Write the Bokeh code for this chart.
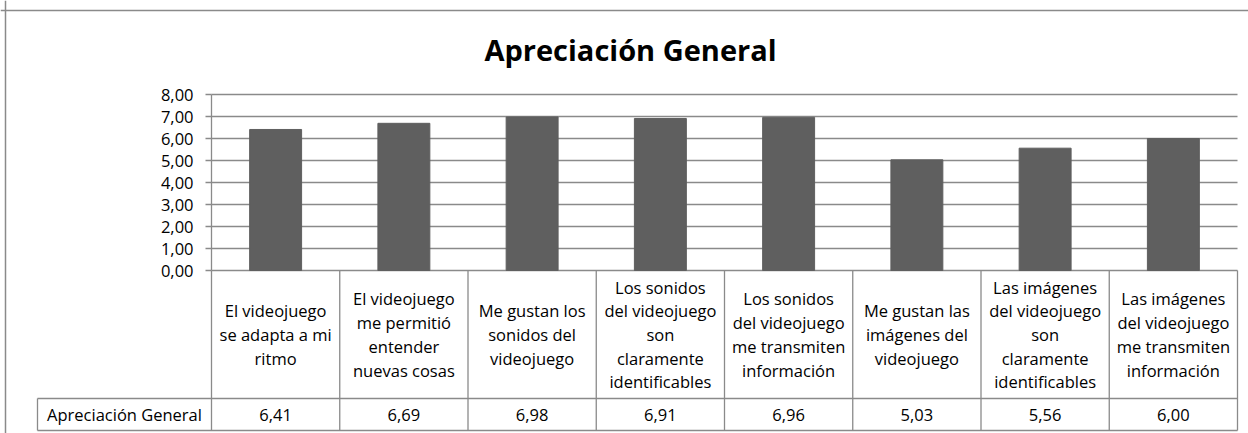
from bokeh.plotting import figure
from bokeh.models import Range1d, LinearAxis, FixedTicker, Span, CustomJSTickFormatter
from bokeh.core.properties import value
from bokeh.embed import file_html
from bokeh.resources import INLINE

# ---- data ----
categories = [
    "El videojuego\nse adapta a mi\nritmo",
    "El videojuego\nme permitió\nentender\nnuevas cosas",
    "Me gustan los\nsonidos del\nvideojuego",
    "Los sonidos\ndel videojuego\nson\nclaramente\nidentificables",
    "Los sonidos\ndel videojuego\nme transmiten\ninformación",
    "Me gustan las\nimágenes del\nvideojuego",
    "Las imágenes\ndel videojuego\nson\nclaramente\nidentificables",
    "Las imágenes\ndel videojuego\nme transmiten\ninformación",
]
values = [6.41, 6.69, 6.98, 6.91, 6.96, 5.03, 5.56, 6.00]
series_name = "Apreciación General"
title_text = "Apreciación General"
y_ticks = [0, 1, 2, 3, 4, 5, 6, 7, 8]

value_labels = [f"{v:.2f}".replace(".", ",") for v in values]

# ---- layout (pixels) ----
W, H = 1248, 433
AX_X = 211          # y-axis position inside figure
CAT_W = 128.25      # category width in px
ZERO_Y = 270        # y=0 position from figure top
PX = 22.0           # px per unit
n = len(categories)

def ux(px):
    return (px - AX_X) / CAT_W

def uy(py):
    return (ZERO_Y - py) / PX

p = figure(width=W, height=H, x_range=Range1d(ux(0), ux(W)), y_range=Range1d(uy(H), uy(0)),
           min_border=0, x_axis_type=None, y_axis_type=None, toolbar_location=None,
           output_backend="svg", outline_line_color=None)
p.background_fill_color = "white"

GRID = "#8a8a8a"
FONT = "Open Sans"
FS = "16.5px"

# gridlines
p.segment(x0=[0] * len(y_ticks), x1=[n] * len(y_ticks), y0=y_ticks, y1=y_ticks,
          line_color=GRID, line_width=1.3)

# bars
xs = [i + 0.5 for i in range(n)]
p.vbar(x=xs, top=values, width=0.405, bottom=0, fill_color="#5f5f5f", line_color="#5f5f5f")

# y axis
axis = LinearAxis(fixed_location=0, bounds=(0, max(y_ticks)), ticker=FixedTicker(ticks=y_ticks),
                  formatter=CustomJSTickFormatter(code="return tick.toFixed(2).replace('.', ',')"))
axis.axis_line_color = GRID
axis.axis_line_width = 1.3
axis.major_tick_line_color = GRID
axis.major_tick_line_width = 1.3
axis.major_tick_out = 6
axis.major_tick_in = 0
axis.minor_tick_line_color = None
axis.major_label_standoff = 12
axis.major_label_text_font = FONT
axis.major_label_text_font_size = FS
axis.major_label_text_color = "black"
p.add_layout(axis, "left")

# table geometry
hdr_bot = uy(398)
row_bot = uy(430)
left_x = ux(37)

p.segment(x0=list(range(n + 1)), x1=list(range(n + 1)), y0=[0] * (n + 1), y1=[row_bot] * (n + 1),
          line_color=GRID, line_width=1.3)
p.segment(x0=[left_x, left_x, left_x], x1=[n, n, left_x], y0=[hdr_bot, row_bot, hdr_bot],
          y1=[hdr_bot, row_bot, row_bot], line_color=GRID, line_width=1.3)

# header labels
p.text(x=xs, y=[hdr_bot / 2] * n, text=categories, text_align="center", text_baseline="middle",
       text_font=value(FONT), text_font_size=FS, text_color="black", text_line_height=1.03)
# value row
p.text(x=xs, y=[(hdr_bot + row_bot) / 2] * n, text=value_labels, text_align="center",
       text_baseline="middle", text_font=value(FONT), text_font_size=FS, text_color="black")
p.text(x=[(left_x + 0) / 2], y=[(hdr_bot + row_bot) / 2], text=[series_name], text_align="center",
       text_baseline="middle", text_font=value(FONT), text_font_size=FS, text_color="black")

# title
p.text(x=[ux(630)], y=[uy(49)], text=[title_text], text_align="center", text_baseline="middle",
       text_font=value(FONT), text_font_size="29px", text_font_style="bold", text_color="black")

# outer border (left and top)
p.add_layout(Span(location=uy(10), dimension="width", line_color=GRID, line_width=1.5))
p.add_layout(Span(location=ux(5), dimension="height", line_color=GRID, line_width=1.5))

open("out.html", "w").write(file_html(p, INLINE))
